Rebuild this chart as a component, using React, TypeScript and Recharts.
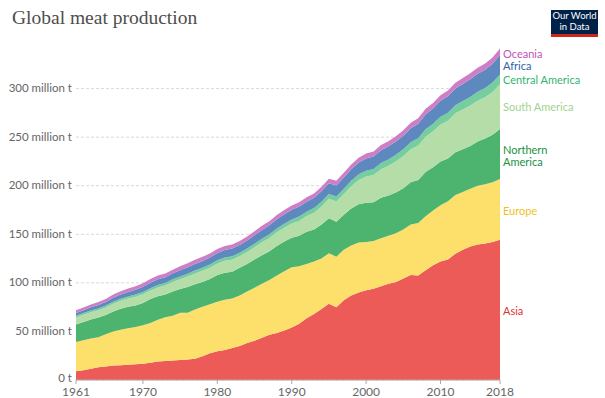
import React from 'react'
import { Area, ComposedChart, CartesianGrid, XAxis, YAxis, ReferenceDot } from 'recharts'

const years = [
  1961, 1962, 1963, 1964, 1965, 1966, 1967, 1968, 1969, 1970,
  1971, 1972, 1973, 1974, 1975, 1976, 1977, 1978, 1979, 1980,
  1981, 1982, 1983, 1984, 1985, 1986, 1987, 1988, 1989, 1990,
  1991, 1992, 1993, 1994, 1995, 1996, 1997, 1998, 1999, 2000,
  2001, 2002, 2003, 2004, 2005, 2006, 2007, 2008, 2009, 2010,
  2011, 2012, 2013, 2014, 2015, 2016, 2017, 2018,
]

// million tonnes
const asia = [
  9.0, 10.0, 11.5, 13.0, 14.0, 14.8, 15.3, 15.8, 16.2, 16.8,
  17.8, 19.0, 19.6, 20.2, 20.6, 21.0, 22.0, 24.5, 27.5, 29.5,
  31.0, 33.0, 35.0, 38.0, 40.5, 43.5, 46.5, 48.5, 51.0, 54.0,
  58.0, 63.5, 68.0, 73.0, 78.5, 75.0, 82.0, 87.0, 90.0, 92.5,
  94.0, 96.5, 99.0, 101.0, 104.5, 108.0, 107.5, 113.0, 118.0, 122.0,
  124.0, 130.0, 134.0, 137.5, 139.5, 140.5, 142.0, 144.5,
]
const europe = [
  30.0, 31.0, 31.2, 31.0, 33.0, 35.0, 36.5, 37.5, 38.3, 39.5,
  41.0, 43.0, 45.0, 46.0, 48.5, 48.3, 50.5, 51.0, 50.5, 51.0,
  51.5, 51.0, 52.0, 53.0, 54.5, 55.5, 56.5, 59.0, 61.0, 62.0,
  59.0, 56.0, 54.0, 52.0, 52.0, 52.0, 52.0, 51.5, 51.5, 49.5,
  49.0, 49.5, 49.5, 50.0, 50.5, 52.0, 54.0, 55.5, 56.5, 58.0,
  60.0, 60.5, 59.5, 59.5, 60.5, 61.0, 61.5, 62.5,
]
const northernAmerica = [
  18.2, 18.8, 19.5, 20.3, 20.0, 20.8, 21.5, 22.0, 22.3, 23.0,
  24.5, 24.3, 23.5, 25.0, 24.5, 26.5, 26.0, 25.5, 26.0, 27.5,
  28.0, 27.5, 28.5, 28.5, 29.0, 29.5, 29.5, 30.5, 30.5, 30.5,
  31.5, 33.0, 33.0, 35.0, 36.0, 36.0, 36.0, 38.0, 39.5, 40.5,
  40.0, 41.5, 41.5, 42.0, 42.5, 43.5, 44.5, 45.5, 44.5, 45.0,
  44.0, 44.0, 44.0, 44.0, 45.5, 47.0, 49.0, 51.5,
]
const southAmerica = [
  7.2, 7.3, 7.5, 7.4, 7.7, 8.0, 8.3, 8.6, 8.9, 9.0,
  8.8, 9.0, 9.2, 9.8, 10.2, 10.8, 11.2, 11.5, 11.6, 12.0,
  12.2, 12.3, 12.0, 12.2, 12.6, 13.2, 13.6, 14.0, 14.2, 14.5,
  15.3, 16.2, 17.2, 18.5, 20.0, 20.8, 21.5, 23.0, 25.0, 27.0,
  28.0, 29.5, 30.5, 32.0, 33.0, 34.0, 35.5, 36.5, 37.0, 38.0,
  39.0, 40.0, 41.0, 41.5, 42.0, 42.5, 44.0, 46.0,
]
const centralAmerica = [
  1.7, 1.75, 1.8, 1.9, 1.9, 2.0, 2.1, 2.1, 2.2, 2.3,
  2.4, 2.5, 2.6, 2.7, 2.8, 2.9, 3.0, 3.1, 3.2, 3.3,
  3.4, 3.5, 3.4, 3.6, 3.7, 3.8, 3.9, 4.0, 4.1, 4.3,
  4.5, 4.6, 4.8, 5.0, 5.0, 5.2, 5.4, 5.6, 5.8, 6.0,
  6.2, 6.4, 6.6, 6.8, 7.0, 7.2, 7.4, 7.6, 7.7, 8.0,
  8.2, 8.4, 8.6, 8.9, 9.2, 9.5, 9.7, 10.0,
]
const africa = [
  2.8, 3.0, 3.3, 3.5, 3.8, 4.1, 4.4, 4.7, 5.0, 5.5,
  5.7, 5.9, 6.0, 6.2, 6.4, 6.6, 6.8, 7.0, 7.2, 7.5,
  7.7, 8.0, 8.1, 8.3, 8.6, 8.9, 9.2, 9.5, 9.8, 10.0,
  10.2, 10.3, 10.5, 10.7, 11.0, 11.3, 11.5, 11.8, 12.1, 12.5,
  12.8, 13.1, 13.4, 13.7, 14.0, 14.4, 14.8, 15.3, 15.9, 16.5,
  17.0, 17.3, 17.7, 18.1, 18.5, 19.0, 19.4, 20.0,
]
const oceania = [
  2.8, 2.9, 3.0, 3.1, 3.1, 3.2, 3.3, 3.4, 3.5, 3.6,
  3.7, 3.9, 3.8, 3.7, 4.0, 4.2, 4.3, 4.3, 4.1, 4.0,
  4.1, 4.3, 4.0, 4.0, 4.2, 4.3, 4.3, 4.4, 4.3, 4.4,
  4.5, 4.6, 4.6, 4.7, 4.7, 4.8, 4.9, 4.9, 5.0, 5.1,
  5.2, 5.3, 5.3, 5.4, 5.5, 5.6, 5.7, 5.7, 5.6, 5.7,
  5.8, 5.9, 6.1, 6.3, 6.3, 6.3, 6.4, 6.8,
]

const yTicks = [0, 50, 100, 150, 200, 250, 300]
const xTicks = [1961, 1970, 1980, 1990, 2000, 2010, 2018]

// stacking order bottom -> top
const series = [
  { key: 'asia', name: 'Asia', values: asia, fill: '#ec5b57', text: '#e2332f', labelAt: 72 },
  { key: 'europe', name: 'Europe', values: europe, fill: '#fde06c', text: '#f2c01e', labelAt: 175 },
  { key: 'northernAmerica', name: 'Northern\nAmerica', values: northernAmerica, fill: '#4cb46e', text: '#18913f', labelAt: 232 },
  { key: 'southAmerica', name: 'South America', values: southAmerica, fill: '#b5dda8', text: '#9fd38f', labelAt: 282 },
  { key: 'centralAmerica', name: 'Central America', values: centralAmerica, fill: '#76cd9d', text: '#33b56e', labelAt: 310 },
  { key: 'africa', name: 'Africa', values: africa, fill: '#5e89bf', text: '#2f62a6', labelAt: 324 },
  { key: 'oceania', name: 'Oceania', values: oceania, fill: '#cd7ec6', text: '#c252b8', labelAt: 337 },
]

const data = years.map((year, i) => {
  const row: Record<string, number> = { year }
  series.forEach((s) => {
    row[s.key] = s.values[i]
  })
  return row
})

const formatY = (v: number) => (v === 0 ? '0 t' : `${v} million t`)

function YTick({ x, y, payload }: any) {
  // the zero label sits a little higher so it clears the first year label
  const shift = payload.value === 0 ? 2.5 : 1
  return (
    <text x={x} y={y - shift} fill="#666" fontSize={11.5} textAnchor="end" dominantBaseline="central">
      {formatY(payload.value)}
    </text>
  )
}

function EndLabel({ cx, cy, name, color }: any) {
  const lines = String(name).split('\n')
  const lh = 12
  const start = cy - ((lines.length - 1) * lh) / 2
  return (
    <text x={cx + 3} y={start} fill={color} fontSize={11} fontFamily="Lato, sans-serif" dominantBaseline="central">
      {lines.map((l, i) => (
        <tspan key={i} x={cx + 3} y={start + i * lh}>
          {l}
        </tspan>
      ))}
    </text>
  )
}

export default function App() {
  return (
    <div style={{ position: 'absolute', left: 0, top: 0, width: 605, height: 398, background: '#fff', fontFamily: 'Lato, sans-serif' }}>
      <div style={{ position: 'absolute', left: 12, top: 7, fontFamily: '"Liberation Serif", serif', fontSize: 19.5, color: '#4d4d4d' }}>
        Global meat production
      </div>
      <div
        style={{
          position: 'absolute', left: 551, top: 10, width: 47, height: 23, background: '#002147',
          borderBottom: '3px solid #ce261e', color: '#fff', fontSize: 9.5, lineHeight: '10.5px',
          textAlign: 'center', paddingTop: 1, boxSizing: 'content-box',
        }}
      >
        Our World
        <br />
        in Data
      </div>
      <ComposedChart
        width={605}
        height={398}
        data={data}
        margin={{ top: 40, right: 105, bottom: 0, left: 0 }}
        style={{ position: 'absolute', left: 0, top: 0 }}
      >
        <CartesianGrid vertical={false} stroke="#d9d9d9" strokeDasharray="3 2" horizontalValues={yTicks} />
        <XAxis
          dataKey="year"
          type="number"
          domain={[1961, 2018]}
          ticks={xTicks}
          height={18}
          tickSize={4}
          tickMargin={3}
          stroke="#aaa"
          tick={{ fill: '#666', fontSize: 12 }}
          interval={0}
        />
        <YAxis
          domain={[0, 350]}
          ticks={yTicks}
          width={76}
          tickSize={0}
          tickMargin={4}
          axisLine={false}
          tick={<YTick />}
          interval={0}
        />
        {series.map((s) => (
          <Area
            key={s.key}
            dataKey={s.key}
            stackId="1"
            type="linear"
            stroke="none"
            fill={s.fill}
            fillOpacity={1}
            isAnimationActive={false}
          />
        ))}
        {series.map((s) => (
          <ReferenceDot
            key={'l' + s.key}
            x={2018}
            y={s.labelAt}
            r={0}
            shape={(p: any) => <EndLabel cx={p.cx} cy={p.cy} name={s.name} color={s.text} />}
          />
        ))}
      </ComposedChart>
    </div>
  )
}
